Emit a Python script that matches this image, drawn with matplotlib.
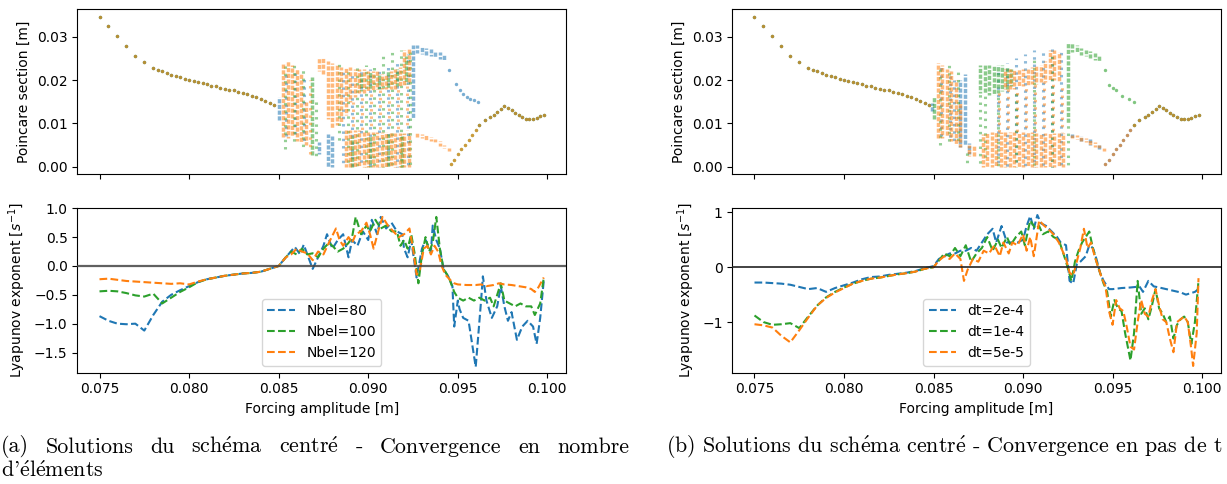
import numpy as np
import matplotlib
matplotlib.use('Agg')
import matplotlib.pyplot as plt

W, H = 1227, 484
C_BLUE, C_ORANGE, C_GREEN = '#1f77b4', '#ff7f0e', '#2ca02c'

# ------------------------------------------------------------------ Lyapunov data
amp_left = [0.0750, 0.0755, 0.0760, 0.0765, 0.0770, 0.0775, 0.0780, 0.0785, 0.0790, 0.0795,
            0.0800, 0.0805, 0.0810, 0.0815, 0.0820, 0.0825, 0.0830, 0.0835, 0.0840, 0.0845, 0.0850]

# (a) Nbel = 80 / 100 / 120
lyap_n80_left = [-0.87, -0.95, -1.00, -1.01, -1.00, -1.12, -0.85, -0.62, -0.50, -0.42,
                 -0.35, -0.28, -0.23, -0.20, -0.17, -0.15, -0.13, -0.12, -0.10, -0.05, 0.00]
lyap_n80_x = [0.0854, 0.0859, 0.0862, 0.0864, 0.0866, 0.0869, 0.0872, 0.0875, 0.0877,
              0.0880, 0.0883, 0.0886, 0.0889, 0.0891, 0.0894, 0.0897, 0.0900, 0.0902, 0.0905,
              0.0907, 0.0910, 0.0913, 0.0916, 0.0919, 0.0920, 0.0922, 0.0924, 0.0927, 0.0930,
              0.0932, 0.0935, 0.0936, 0.0938, 0.0940, 0.0942, 0.0945, 0.0947, 0.0948, 0.0950,
              0.0951, 0.0953, 0.0956, 0.0960, 0.0963, 0.0964, 0.0966, 0.0969, 0.0972, 0.0974,
              0.0976, 0.0978, 0.0980, 0.0983, 0.0986, 0.0989, 0.0992, 0.0994, 0.0996, 0.0998]
lyap_n80_y = [0.15, 0.33, 0.20, 0.37, 0.20, -0.05, 0.15, 0.35, 0.55,
              0.30, 0.45, 0.55, 0.15, 0.45, 0.35, 0.60, 0.45, 0.80, 0.55,
              0.85, 0.65, 0.75, 0.60, 0.55, 0.30, 0.15, 0.45, -0.20, 0.30,
              0.45, 0.25, 0.70, 0.45, 0.30, -0.05, -0.20, -0.35, -1.05, -0.60,
              -0.75, -0.90, -0.95, -1.75, -0.60, -0.18, -0.60, -0.90, -0.70, -0.35,
              -0.70, -0.95, -0.80, -1.28, -1.05, -0.95, -1.05, -1.35, -0.90, -0.25]

lyap_n100_left = [-0.44, -0.43, -0.44, -0.47, -0.51, -0.53, -0.48, -0.65, -0.55, -0.45,
                  -0.37, -0.28, -0.23, -0.20, -0.17, -0.15, -0.13, -0.12, -0.10, -0.05, 0.00]
lyap_n100_x = [0.0854, 0.0857, 0.0860, 0.0863, 0.0866, 0.0869, 0.0872, 0.0875, 0.0878,
               0.0880, 0.0883, 0.0886, 0.0889, 0.0891, 0.0893, 0.0896, 0.0899, 0.0901, 0.0904,
               0.0907, 0.0910, 0.0913, 0.0916, 0.0918, 0.0920, 0.0922, 0.0924, 0.0926, 0.0928,
               0.0930, 0.0932, 0.0934, 0.0936, 0.0938, 0.0940, 0.0942, 0.0945, 0.0948, 0.0950,
               0.0953, 0.0956, 0.0959, 0.0962, 0.0965, 0.0968, 0.0970, 0.0972, 0.0974, 0.0976,
               0.0979, 0.0982, 0.0985, 0.0988, 0.0991, 0.0993, 0.0996, 0.0998]
lyap_n100_y = [0.15, 0.25, 0.20, 0.30, 0.20, 0.22, 0.15, 0.30, 0.40,
               0.35, 0.25, 0.30, 0.40, 0.50, 0.85, 0.55, 0.70, 0.60, 0.80,
               0.65, 0.70, 0.60, 0.60, 0.35, 0.45, 0.30, 0.55, 0.20, -0.30,
               0.20, 0.50, 0.25, 0.40, 0.85, 0.30, -0.05, -0.20, -0.45, -0.55,
               -0.60, -0.55, -0.60, -0.55, -0.60, -0.55, -0.70, -0.50, -0.30, -0.60,
               -0.65, -0.70, -0.65, -0.70, -0.70, -0.85, -0.65, -0.20]

lyap_n120_left = [-0.23, -0.22, -0.24, -0.26, -0.27, -0.28, -0.29, -0.30, -0.31, -0.30,
                  -0.32, -0.27, -0.23, -0.20, -0.17, -0.15, -0.13, -0.12, -0.10, -0.05, 0.00]
lyap_n120_x = [0.0854, 0.0857, 0.0860, 0.0863, 0.0866, 0.0869, 0.0872, 0.0875, 0.0878,
               0.0882, 0.0884, 0.0886, 0.0889, 0.0891, 0.0893, 0.0896, 0.0899, 0.0901, 0.0903,
               0.0906, 0.0908, 0.0911, 0.0914, 0.0917, 0.0920, 0.0923, 0.0925, 0.0927, 0.0929,
               0.0931, 0.0933, 0.0935, 0.0937, 0.0939, 0.0941, 0.0943, 0.0946, 0.0948, 0.0950,
               0.0955, 0.0960, 0.0963, 0.0966, 0.0970, 0.0973, 0.0976, 0.0980, 0.0984, 0.0988,
               0.0991, 0.0993, 0.0995, 0.0998]
lyap_n120_y = [0.15, 0.20, 0.30, 0.25, 0.22, 0.10, 0.25, 0.20, 0.40,
               0.65, 0.45, 0.35, 0.50, 0.40, 0.55, 0.60, 0.75, 0.55, 0.30,
               0.65, 0.85, 0.70, 0.60, 0.50, 0.55, 0.65, 0.30, -0.15, -0.05,
               0.30, 0.35, 0.20, 0.35, 0.25, 0.00, -0.15, -0.25, -0.30, -0.32,
               -0.33, -0.33, -0.32, -0.35, -0.33, -0.30, -0.32, -0.33, -0.35, -0.37,
               -0.40, -0.45, -0.37, -0.20]

# (b) dt = 2e-4 / 1e-4 / 5e-5
lyap_dt2_left = [-0.28, -0.28, -0.29, -0.30, -0.32, -0.36, -0.40, -0.38, -0.45, -0.38,
                 -0.33, -0.28, -0.22, -0.18, -0.17, -0.14, -0.12, -0.10, -0.07, -0.02, 0.02]
lyap_dt2_x = [0.0853, 0.0856, 0.0859, 0.0862, 0.0865, 0.0868, 0.0871, 0.0874, 0.0877, 0.0880,
              0.0883, 0.0885, 0.0888, 0.0891, 0.0894, 0.0897, 0.0900, 0.0902, 0.0904, 0.0906,
              0.0908, 0.0910, 0.0913, 0.0916, 0.0919, 0.0921, 0.0924, 0.0926, 0.0928, 0.0930,
              0.0932, 0.0935, 0.0937, 0.0939, 0.0941, 0.0943, 0.0945, 0.0948, 0.0950, 0.0955,
              0.0960, 0.0963, 0.0965, 0.0967, 0.0970, 0.0973, 0.0976, 0.0980, 0.0984, 0.0988,
              0.0991, 0.0994, 0.0996, 0.0998]
lyap_dt2_y = [0.15, 0.20, 0.25, 0.25, 0.30, 0.30, 0.35, 0.30, 0.45, 0.60,
              0.70, 0.45, 0.75, 0.45, 0.45, 0.45, 0.50, 0.75, 0.93, 0.70,
              0.95, 0.80, 0.75, 0.65, 0.55, 0.45, 0.40, -0.25, -0.30, 0.05,
              0.10, 0.20, 0.40, 0.35, 0.15, -0.10, -0.25, -0.40, -0.40, -0.38,
              -0.37, -0.36, -0.35, -0.45, -0.25, -0.35, -0.37, -0.40, -0.43, -0.46,
              -0.50, -0.47, -0.45, -0.40]

lyap_dt1_left = [-0.88, -1.00, -1.05, -1.04, -1.02, -1.11, -0.90, -0.70, -0.55, -0.45,
                 -0.37, -0.30, -0.25, -0.21, -0.19, -0.16, -0.13, -0.11, -0.08, -0.03, 0.00]
lyap_dt1_x = [0.0853, 0.0856, 0.0859, 0.0862, 0.0865, 0.0868, 0.0871, 0.0874, 0.0877, 0.0880,
              0.0883, 0.0886, 0.0888, 0.0891, 0.0893, 0.0896, 0.0899, 0.0901, 0.0904, 0.0907,
              0.0909, 0.0911, 0.0914, 0.0917, 0.0920, 0.0922, 0.0924, 0.0927, 0.0929, 0.0931,
              0.0933, 0.0935, 0.0937, 0.0939, 0.0941, 0.0943, 0.0945, 0.0947, 0.0949, 0.0951,
              0.0953, 0.0955, 0.0957, 0.0960, 0.0962, 0.0964, 0.0966, 0.0968, 0.0970, 0.0972,
              0.0974, 0.0976, 0.0978, 0.0980, 0.0982, 0.0984, 0.0986, 0.0988, 0.0990, 0.0992,
              0.0994, 0.0996, 0.0998]
lyap_dt1_y = [0.12, 0.25, 0.20, 0.35, 0.20, 0.40, 0.10, 0.25, 0.35, 0.55,
              0.30, 0.50, 0.35, 0.55, 0.40, 0.55, 0.65, 0.40, 0.85, 0.70,
              0.75, 0.60, 0.65, 0.55, 0.50, 0.30, 0.10, -0.25, 0.10, 0.30,
              0.45, 0.55, 0.65, 0.35, 0.10, -0.10, -0.30, -0.45, -0.90, -0.60,
              -0.75, -0.80, -1.20, -1.70, -1.20, -0.25, -0.85, -0.75, -0.95, -0.70,
              -0.40, -0.75, -0.85, -1.00, -0.90, -1.30, -1.05, -0.95, -0.90, -1.00,
              -1.40, -1.00, -0.25]

lyap_dt05_left = [-1.04, -1.06, -1.10, -1.25, -1.37, -1.15, -0.92, -0.70, -0.56, -0.46,
                  -0.38, -0.30, -0.25, -0.21, -0.19, -0.16, -0.13, -0.11, -0.08, -0.03, 0.00]
lyap_dt05_x = [0.0853, 0.0856, 0.0859, 0.0862, 0.0865, 0.0867, 0.0869, 0.0872, 0.0875, 0.0878,
               0.0881, 0.0884, 0.0887, 0.0889, 0.0892, 0.0894, 0.0897, 0.0900, 0.0902, 0.0904,
               0.0906, 0.0909, 0.0912, 0.0914, 0.0917, 0.0920, 0.0922, 0.0924, 0.0926, 0.0928,
               0.0930, 0.0932, 0.0934, 0.0936, 0.0938, 0.0940, 0.0942, 0.0944, 0.0946, 0.0948,
               0.0950, 0.0952, 0.0954, 0.0956, 0.0958, 0.0960, 0.0962, 0.0964, 0.0966, 0.0968,
               0.0970, 0.0972, 0.0974, 0.0976, 0.0978, 0.0980, 0.0982, 0.0984, 0.0986, 0.0988,
               0.0990, 0.0992, 0.0994, 0.0995, 0.0997, 0.0998]
lyap_dt05_y = [0.12, 0.20, 0.15, 0.25, 0.15, -0.25, -0.05, 0.15, 0.10, 0.30,
               0.25, 0.40, 0.20, 0.45, 0.25, 0.45, 0.40, 0.60, 0.30, 0.55,
               0.20, 0.85, 0.75, 0.70, 0.60, 0.45, 0.30, 0.15, -0.10, -0.15,
               0.10, 0.35, 0.70, 0.35, 0.45, 0.20, 0.00, -0.20, -0.35, -0.80,
               -1.05, -0.60, -0.75, -0.80, -1.10, -1.45, -1.50, -1.00, -0.60, -0.85,
               -0.90, -0.60, -0.40, -0.70, -0.95, -1.00, -1.30, -1.55, -1.00, -0.95,
               -0.90, -1.00, -1.50, -1.80, -1.20, -0.20]

# ------------------------------------------------------------------ Poincare data
# periodic branches (shared by all runs)
poinc_left_x = [0.0750, 0.0755, 0.0760, 0.0765, 0.0770, 0.0775, 0.0780, 0.07825, 0.0785, 0.07875,
                0.0790, 0.07925, 0.0795, 0.07975, 0.0800, 0.08025, 0.0805, 0.08075, 0.0810, 0.08125,
                0.0815, 0.08175, 0.0820, 0.08225, 0.0825, 0.08275, 0.0830, 0.08325, 0.0835, 0.08375,
                0.0840, 0.08425, 0.0845, 0.08475]
poinc_left_y = [0.0345, 0.0325, 0.0302, 0.0278, 0.0256, 0.0241, 0.0228, 0.0224, 0.0220, 0.0216,
                0.0212, 0.0209, 0.0206, 0.0203, 0.0200, 0.0198, 0.0195, 0.0193, 0.0190, 0.0187,
                0.0185, 0.0182, 0.0180, 0.0178, 0.0176, 0.0173, 0.0170, 0.0167, 0.0164, 0.0160,
                0.0156, 0.0152, 0.0148, 0.0142]
poinc_right_x = [0.0946, 0.0948, 0.0950, 0.0952, 0.0954, 0.0956, 0.0958, 0.0960, 0.0962, 0.0965,
                 0.0968, 0.0970, 0.0972, 0.0974, 0.0976, 0.0978, 0.0980, 0.0982, 0.0984, 0.0986,
                 0.0988, 0.0990, 0.0992, 0.0994, 0.0996, 0.0998]
poinc_right_y = [0.0006, 0.0016, 0.0029, 0.0040, 0.0050, 0.0062, 0.0073, 0.0085, 0.0096, 0.0107,
                 0.0115, 0.0120, 0.0127, 0.0133, 0.0140, 0.0135, 0.0130, 0.0124, 0.0119, 0.0114,
                 0.0111, 0.0110, 0.0111, 0.0113, 0.0116, 0.0120]

# upper period-2 tail points
tail_a80_x = [0.0945, 0.0949, 0.0951, 0.0953, 0.0955, 0.0957, 0.0959, 0.0961]
tail_a80_y = [0.0224, 0.0190, 0.0178, 0.0168, 0.0160, 0.0156, 0.0153, 0.0150]
tail_b1_x = [0.0946, 0.0948, 0.0950, 0.0952, 0.0955, 0.0959, 0.0962]
tail_b1_y = [0.0222, 0.0188, 0.0182, 0.0176, 0.0164, 0.0156, 0.0150]

# chaotic columns: (forcing amplitude, y low, y high)
# ---- (a) Nbel=80
a80_dense = [(0.08500, 0.0107, 0.0160), (0.08725, 0.0030, 0.0057), (0.08775, 0.0000, 0.0075),
             (0.08800, 0.0000, 0.0070), (0.09250, 0.0110, 0.0280),
             (0.09275, 0.0262, 0.0280), (0.09300, 0.0260, 0.0277), (0.09325, 0.0258, 0.0274),
             (0.09350, 0.0255, 0.0272), (0.09375, 0.0252, 0.0268), (0.09400, 0.0248, 0.0264),
             (0.09425, 0.0245, 0.0258)]
a80_sparse = [(0.08540, 0.0070, 0.0220), (0.08590, 0.0065, 0.0220), (0.08640, 0.0060, 0.0210),
              (0.08860, 0.0000, 0.0220), (0.08910, 0.0000, 0.0220), (0.08960, 0.0000, 0.0225),
              (0.09010, 0.0000, 0.0225), (0.09060, 0.0000, 0.0225), (0.09110, 0.0000, 0.0230),
              (0.09160, 0.0000, 0.0240), (0.09220, 0.0000, 0.0260)]
# ---- (a) Nbel=100
a100_dense = [(0.08685, 0.0027, 0.0208), (0.08960, 0.0175, 0.0215), (0.09010, 0.0180, 0.0220),
              (0.09060, 0.0180, 0.0215), (0.09110, 0.0180, 0.0220), (0.09160, 0.0185, 0.0225),
              (0.09210, 0.0190, 0.0255), (0.08910, 0.0000, 0.0070), (0.09010, 0.0000, 0.0070),
              (0.09110, 0.0000, 0.0075), (0.09190, 0.0000, 0.0075)]
a100_sparse = [(0.08535, 0.0040, 0.0240), (0.08585, 0.0050, 0.0240), (0.08635, 0.0045, 0.0225),
               (0.08710, 0.0015, 0.0160), (0.08835, 0.0060, 0.0240), (0.08885, 0.0000, 0.0230),
               (0.08935, 0.0000, 0.0235), (0.08985, 0.0000, 0.0235), (0.09035, 0.0000, 0.0240),
               (0.09085, 0.0000, 0.0255), (0.09135, 0.0000, 0.0265), (0.09185, 0.0000, 0.0270),
               (0.09235, 0.0000, 0.0275)]
# ---- (a) Nbel=120
a120_dense = [(0.08525, 0.0068, 0.0240), (0.08550, 0.0065, 0.0245), (0.08575, 0.0070, 0.0235),
              (0.08600, 0.0060, 0.0225), (0.08625, 0.0055, 0.0215), (0.08650, 0.0050, 0.0150),
              (0.08725, 0.0220, 0.0250), (0.08750, 0.0215, 0.0250), (0.08775, 0.0110, 0.0245),
              (0.08800, 0.0090, 0.0240), (0.08825, 0.0095, 0.0235), (0.08850, 0.0100, 0.0230),
              (0.08875, 0.0000, 0.0085), (0.08875, 0.0120, 0.0230), (0.08900, 0.0000, 0.0085),
              (0.08900, 0.0150, 0.0230), (0.08925, 0.0000, 0.0085), (0.08925, 0.0160, 0.0225),
              (0.08950, 0.0000, 0.0085), (0.08950, 0.0170, 0.0225), (0.08975, 0.0000, 0.0080),
              (0.08975, 0.0170, 0.0225), (0.09000, 0.0000, 0.0080), (0.09000, 0.0175, 0.0220),
              (0.09025, 0.0000, 0.0080), (0.09025, 0.0175, 0.0220), (0.09050, 0.0000, 0.0080),
              (0.09050, 0.0180, 0.0220), (0.09075, 0.0000, 0.0080), (0.09075, 0.0180, 0.0215),
              (0.09100, 0.0000, 0.0080), (0.09100, 0.0180, 0.0215), (0.09125, 0.0000, 0.0080),
              (0.09125, 0.0180, 0.0220), (0.09150, 0.0000, 0.0078), (0.09150, 0.0180, 0.0225),
              (0.09175, 0.0000, 0.0078), (0.09175, 0.0185, 0.0230), (0.09200, 0.0000, 0.0078),
              (0.09200, 0.0185, 0.0270), (0.09225, 0.0000, 0.0077), (0.09225, 0.0190, 0.0275),
              (0.09275, 0.0068, 0.0078), (0.09300, 0.0065, 0.0075), (0.09325, 0.0062, 0.0072),
              (0.09350, 0.0058, 0.0068), (0.09375, 0.0054, 0.0064), (0.09400, 0.0048, 0.0058),
              (0.09425, 0.0042, 0.0050), (0.09450, 0.0036, 0.0042)]
a120_sparse = [(0.08675, 0.0030, 0.0200), (0.08915, 0.0085, 0.0150), (0.08965, 0.0085, 0.0170),
               (0.09015, 0.0085, 0.0175), (0.09065, 0.0085, 0.0180), (0.09115, 0.0085, 0.0180),
               (0.09165, 0.0085, 0.0180), (0.09215, 0.0085, 0.0185)]

# ---- (b) dt=2e-4
b2_dense = [(0.08490, 0.0128, 0.0148), (0.08650, 0.0045, 0.0200), (0.08675, 0.0050, 0.0215),
            (0.08700, 0.0030, 0.0055), (0.09275, 0.0064, 0.0075), (0.09325, 0.0060, 0.0071),
            (0.09375, 0.0050, 0.0063), (0.09425, 0.0040, 0.0051)]
b2_sparse = [(0.08540, 0.0070, 0.0230), (0.08590, 0.0060, 0.0220), (0.08615, 0.0060, 0.0200),
             (0.08860, 0.0000, 0.0230), (0.08910, 0.0000, 0.0240), (0.08960, 0.0000, 0.0250),
             (0.09010, 0.0000, 0.0260), (0.09060, 0.0000, 0.0270), (0.09110, 0.0000, 0.0270),
             (0.09160, 0.0000, 0.0275), (0.09210, 0.0000, 0.0270)]
# ---- (b) dt=1e-4
b1_dense = [(0.08500, 0.0110, 0.0160), (0.08760, 0.0170, 0.0235), (0.08785, 0.0170, 0.0235),
            (0.08810, 0.0165, 0.0235), (0.08835, 0.0165, 0.0235), (0.08860, 0.0170, 0.0235),
            (0.08885, 0.0175, 0.0235), (0.08910, 0.0180, 0.0230), (0.08935, 0.0185, 0.0225),
            (0.09250, 0.0100, 0.0285), (0.09275, 0.0265, 0.0285), (0.09300, 0.0262, 0.0280),
            (0.09325, 0.0258, 0.0275), (0.09350, 0.0255, 0.0270), (0.09375, 0.0250, 0.0266),
            (0.09400, 0.0247, 0.0262), (0.09425, 0.0244, 0.0256)]
b1_sparse = [(0.08535, 0.0050, 0.0235), (0.08585, 0.0050, 0.0240), (0.08635, 0.0060, 0.0220),
             (0.08685, 0.0000, 0.0040), (0.08760, 0.0005, 0.0170), (0.08790, 0.0010, 0.0170),
             (0.08860, 0.0000, 0.0160), (0.08960, 0.0000, 0.0180), (0.09060, 0.0000, 0.0255),
             (0.09160, 0.0000, 0.0260), (0.09250, 0.0000, 0.0100)]
# ---- (b) dt=5e-5
b05_dense = [(0.08525, 0.0065, 0.0240), (0.08550, 0.0065, 0.0235), (0.08575, 0.0070, 0.0225),
             (0.08600, 0.0060, 0.0220), (0.08625, 0.0050, 0.0200), (0.08650, 0.0045, 0.0150),
             (0.08700, 0.0025, 0.0050), (0.08725, 0.0025, 0.0048), (0.08775, 0.0000, 0.0075),
             (0.08800, 0.0000, 0.0078), (0.08825, 0.0000, 0.0080), (0.08850, 0.0000, 0.0080),
             (0.08875, 0.0000, 0.0080), (0.08900, 0.0000, 0.0080), (0.08925, 0.0000, 0.0080),
             (0.08950, 0.0000, 0.0080), (0.08975, 0.0000, 0.0080), (0.09000, 0.0000, 0.0080),
             (0.09025, 0.0000, 0.0080), (0.09050, 0.0000, 0.0080), (0.09075, 0.0000, 0.0078),
             (0.09100, 0.0000, 0.0078), (0.09125, 0.0000, 0.0078), (0.09150, 0.0000, 0.0078),
             (0.09175, 0.0000, 0.0078), (0.09200, 0.0000, 0.0077), (0.09225, 0.0000, 0.0077),
             (0.08900, 0.0180, 0.0225), (0.08925, 0.0180, 0.0225), (0.08950, 0.0180, 0.0225),
             (0.08975, 0.0185, 0.0225), (0.09000, 0.0185, 0.0225), (0.09025, 0.0185, 0.0225),
             (0.09050, 0.0190, 0.0230), (0.09075, 0.0190, 0.0235), (0.09100, 0.0195, 0.0235),
             (0.09125, 0.0195, 0.0245), (0.09150, 0.0200, 0.0270), (0.09175, 0.0200, 0.0270),
             (0.09200, 0.0195, 0.0265),
             (0.09275, 0.0066, 0.0074), (0.09300, 0.0063, 0.0072), (0.09325, 0.0060, 0.0070),
             (0.09350, 0.0056, 0.0066), (0.09375, 0.0050, 0.0062), (0.09400, 0.0045, 0.0057),
             (0.09425, 0.0040, 0.0050), (0.09450, 0.0035, 0.0042)]
b05_sparse = [(0.08865, 0.0080, 0.0180), (0.08915, 0.0080, 0.0180), (0.08965, 0.0080, 0.0180),
              (0.09015, 0.0080, 0.0185), (0.09065, 0.0080, 0.0190), (0.09115, 0.0080, 0.0195),
              (0.09165, 0.0080, 0.0200), (0.09215, 0.0080, 0.0190)]

# ------------------------------------------------------------------ figure
plt.rcParams['font.family'] = ['DejaVu Sans']
plt.rcParams['mathtext.fontset'] = 'dejavusans'
fig = plt.figure(figsize=(W / 100, H / 100), dpi=100)


def ax_px(l, t, r, b):
    return fig.add_axes([l / W, 1 - b / H, (r - l) / W, (b - t) / H])


XLIM = (0.07376, 0.10104)


def draw_cols(ax, cols, color, sparse):
    xs = [c[0] for c in cols]
    lo = [c[1] for c in cols]
    hi = [c[2] for c in cols]
    n = len(xs)
    if sparse:
        styles = [((k * 1.13) % 2.4, (0.8, 1.6)) for k in range(n)]
        ax.vlines(xs, lo, hi, colors=color, lw=2.2, alpha=0.5, linestyles=styles)
    else:
        styles = [((k * 0.71) % 1.65, (1.2, 0.45)) for k in range(n)]
        ax.vlines(xs, lo, hi, colors=color, lw=2.5, alpha=0.55, linestyles=styles)


def pts(ax, x, y, color):
    ax.scatter(x, y, s=6, color=color, alpha=0.6, linewidths=0)


def style_top(ax):
    ax.set_xlim(*XLIM)
    ax.set_ylim(-0.00178, 0.03633)
    ax.set_yticks([0.0, 0.01, 0.02, 0.03])
    ax.set_xticks([0.075, 0.080, 0.085, 0.090, 0.095, 0.100])
    ax.tick_params(labelbottom=False)
    ax.set_ylabel('Poincare section [m]')


# ---------------- (a) top
axA1 = ax_px(77.3, 9.3, 566.0, 174.3)
pts(axA1, poinc_left_x, poinc_left_y, C_BLUE)
pts(axA1, poinc_right_x[8:], poinc_right_y[8:], C_BLUE)
pts(axA1, tail_a80_x, tail_a80_y, C_BLUE)
draw_cols(axA1, a80_dense, C_BLUE, False)
draw_cols(axA1, a80_sparse, C_BLUE, True)
pts(axA1, poinc_left_x, poinc_left_y, C_GREEN)
pts(axA1, poinc_right_x, poinc_right_y, C_GREEN)
draw_cols(axA1, a100_dense, C_GREEN, False)
draw_cols(axA1, a100_sparse, C_GREEN, True)
pts(axA1, poinc_left_x, poinc_left_y, C_ORANGE)
pts(axA1, poinc_right_x, poinc_right_y, C_ORANGE)
draw_cols(axA1, a120_dense, C_ORANGE, False)
draw_cols(axA1, a120_sparse, C_ORANGE, True)
style_top(axA1)

# ---------------- (b) top
axB1 = ax_px(732.3, 9.3, 1220.7, 174.3)
pts(axB1, poinc_left_x, poinc_left_y, C_BLUE)
pts(axB1, poinc_right_x, poinc_right_y, C_BLUE)
draw_cols(axB1, b2_dense, C_BLUE, False)
draw_cols(axB1, b2_sparse, C_BLUE, True)
pts(axB1, poinc_left_x, poinc_left_y, C_GREEN)
pts(axB1, poinc_right_x[8:], poinc_right_y[8:], C_GREEN)
pts(axB1, tail_b1_x, tail_b1_y, C_GREEN)
draw_cols(axB1, b1_dense, C_GREEN, False)
draw_cols(axB1, b1_sparse, C_GREEN, True)
pts(axB1, poinc_left_x, poinc_left_y, C_ORANGE)
pts(axB1, poinc_right_x, poinc_right_y, C_ORANGE)
draw_cols(axB1, b05_dense, C_ORANGE, False)
draw_cols(axB1, b05_sparse, C_ORANGE, True)
style_top(axB1)

# ---------------- (a) bottom
axA2 = ax_px(77.3, 207.7, 566.0, 372.7)
axA2.plot(amp_left + lyap_n80_x, lyap_n80_left + lyap_n80_y, '--', color=C_BLUE, lw=1.5, label='Nbel=80')
axA2.plot(amp_left + lyap_n100_x, lyap_n100_left + lyap_n100_y, '--', color=C_GREEN, lw=1.5, label='Nbel=100')
axA2.plot(amp_left + lyap_n120_x, lyap_n120_left + lyap_n120_y, '--', color=C_ORANGE, lw=1.5, label='Nbel=120')
axA2.axhline(0, color='#444444', lw=1.6, alpha=0.85, zorder=3)
axA2.set_xlim(*XLIM)
axA2.set_ylim(-1.85, 1.01)
axA2.set_yticks([-1.5, -1.0, -0.5, 0.0, 0.5, 1.0])
axA2.set_xticks([0.075, 0.080, 0.085, 0.090, 0.095, 0.100])
axA2.set_xlabel('Forcing amplitude [m]')
axA2.set_ylabel('Lyapunov exponent [$s^{-1}$]')
axA2.legend(loc='lower center')

# ---------------- (b) bottom
axB2 = ax_px(732.3, 207.7, 1220.7, 372.7)
axB2.plot(amp_left + lyap_dt2_x, lyap_dt2_left + lyap_dt2_y, '--', color=C_BLUE, lw=1.5, label='dt=2e-4')
axB2.plot(amp_left + lyap_dt1_x, lyap_dt1_left + lyap_dt1_y, '--', color=C_GREEN, lw=1.5, label='dt=1e-4')
axB2.plot(amp_left + lyap_dt05_x, lyap_dt05_left + lyap_dt05_y, '--', color=C_ORANGE, lw=1.5, label='dt=5e-5')
axB2.axhline(0, color='#222222', lw=1.2, zorder=3)
axB2.set_xlim(*XLIM)
axB2.set_ylim(-1.923, 1.084)
axB2.set_yticks([-1, 0, 1])
axB2.set_xticks([0.075, 0.080, 0.085, 0.090, 0.095, 0.100])
axB2.set_xlabel('Forcing amplitude [m]')
axB2.set_ylabel('Lyapunov exponent [$s^{-1}$]')
axB2.legend(loc='lower center')

# ---------------- captions (Computer Modern, accents through mathtext)
cap_family = 'cmr10'
E = r'$\acute{\mathrm{e}}$'
renderer = fig.canvas.get_renderer()


def cap_text(x, y, s, fs):
    return fig.text(x, y, s, family=cap_family, fontsize=fs, va='center', ha='left',
                    math_fontfamily='cm')


def text_width(s, fs):
    t = cap_text(0, 0, s, fs)
    w = t.get_window_extent(renderer).width
    t.remove()
    return w


cap_b = '(b) Solutions du sch' + E + 'ma centr' + E + ' - Convergence en pas de t'
fs0 = 10.0
fs = fs0 * 558.0 / text_width(cap_b, fs0)

y1 = 1 - 447 / H
y2 = 1 - 471 / H
words_a = ['(a)', 'Solutions', 'du', 'sch' + E + 'ma', 'centr' + E, '-', 'Convergence', 'en', 'nombre']
widths = [text_width(w, fs) for w in words_a]
gap = (628.0 - sum(widths)) / (len(words_a) - 1)
xcur = 1.0
for w, wd in zip(words_a, widths):
    cap_text(xcur / W, y1, w, fs)
    xcur += wd + gap
cap_text(1.0 / W, y2, "d'" + E + 'l' + E + 'ments', fs)
cap_text(666.0 / W, y1, cap_b, fs)

fig.savefig('out.png', dpi=100)
